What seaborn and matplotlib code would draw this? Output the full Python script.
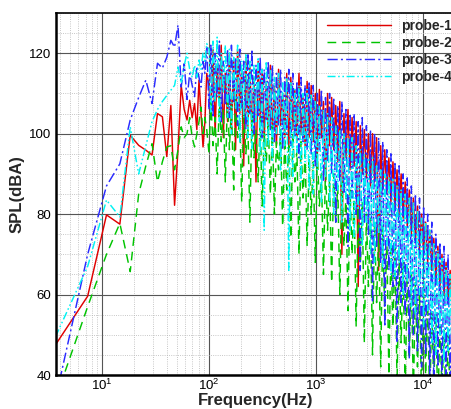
import numpy as np
import pandas as pd
import matplotlib
matplotlib.use("Agg")
import matplotlib.pyplot as plt
from matplotlib.ticker import MultipleLocator, LogLocator
import seaborn as sns

# ---------------- data ----------------
probes = ["probe-1", "probe-2", "probe-3", "probe-4"]

# low-frequency FFT bins (Hz)
freq_low = [3.66, 7.32, 10.98, 14.64, 18.30, 21.96, 25.62, 29.28, 32.94, 36.60,
            40.26, 43.92, 47.58, 51.24, 54.90, 58.56, 62.22, 65.88, 69.54, 73.20,
            76.86, 80.52, 84.18, 87.84, 91.50, 95.16]

# higher-frequency samples (Hz)
freq_high = [100, 104, 109, 114, 119, 125, 130, 136, 142, 149,
             155, 162, 170, 177, 185, 194, 202, 211, 221, 231,
             241, 252, 263, 275, 288, 301, 314, 328, 343, 358,
             375, 391, 409, 427, 447, 467, 488, 510, 533, 557,
             582, 608, 635, 664, 694, 725, 757, 792, 827, 864,
             903, 944, 986, 1031, 1077, 1126, 1176, 1229, 1285, 1342,
             1403, 1466, 1532, 1601, 1673, 1748, 1827, 1909, 1995, 2085,
             2179, 2277, 2379, 2486, 2598, 2715, 2837, 2965, 3098, 3238,
             3383, 3536, 3695, 3861, 4035, 4216, 4406, 4604, 4812, 5028,
             5254, 5491, 5738, 5996, 6266, 6548, 6843, 7151, 7472, 7809,
             8160, 8527, 8911, 9312, 9731, 10170, 10620, 11100, 11600, 12120,
             12670, 13240, 13830, 14460, 15110, 15790, 16500, 17240, 18020, 18830,
             19670, 20560]

p1_low = [47.5, 59.6, 79.8, 77.5, 99.6, 97.1, 95.9, 94.7, 105, 104.2,
          94.3, 107, 82.2, 96, 112, 106, 103.4, 108.3, 104, 107.5,
          101, 113.3, 105, 96.7, 103, 115]
p1_high = [112, 104, 121, 100, 117, 108, 122, 99, 115, 103,
           120, 101, 118, 96, 121, 105, 116, 92, 119, 102,
           117, 99, 114, 88, 118, 103, 116, 98, 113, 101,
           117, 100, 112, 97, 116, 102, 110, 99, 115, 96,
           114, 101, 111, 98, 115, 100, 109, 97, 113, 99,
           112, 98, 110, 95, 111, 99, 108, 88, 110, 97,
           109, 96, 107, 93, 108, 70, 105, 94, 106, 91,
           104, 92, 103, 62, 102, 90, 101, 89, 100, 87,
           100, 88, 99, 66, 97, 86, 96, 85, 94, 83,
           93, 82, 91, 80, 90, 79, 88, 77, 86, 75,
           84, 73, 82, 71, 80, 70, 78, 68, 76, 66,
           74, 64, 72, 62, 70, 60, 68, 58, 66, 56,
           64, 54]

p2_low = [34, 57, 70, 77.7, 65.7, 85, 92, 97.5, 88, 93,
          96.7, 97, 91, 96, 101.7, 99, 100, 104, 99, 96.7,
          100, 103, 106.6, 100, 104, 101]
p2_high = [95, 108, 97, 104, 90, 109, 98, 106, 88, 110,
           96, 107, 86, 109, 99, 104, 83, 106, 95, 102,
           78, 105, 94, 101, 88, 104, 82, 100, 93, 103,
           85, 102, 80, 98, 91, 101, 77, 99, 86, 97,
           74, 100, 88, 96, 70, 98, 84, 95, 72, 94,
           80, 93, 68, 95, 82, 90, 65, 92, 76, 89,
           63, 90, 78, 87, 60, 88, 72, 85, 56, 86,
           70, 84, 52, 82, 66, 83, 48, 80, 62, 79,
           45, 78, 58, 76, 42, 77, 55, 74, 40, 73,
           52, 72, 38, 70, 48, 68, 36, 67, 44, 65,
           35, 63, 42, 61, 34, 60, 40, 58, 33, 56,
           38, 55, 32, 53, 36, 51, 31, 50, 34, 48,
           30, 47]

p3_low = [34, 70, 87, 92.5, 103.4, 109, 113.3, 107.5, 117.5, 116.3,
          119, 123.2, 121.5, 127, 111.6, 117.4, 108.5, 115, 112, 109.2,
          116.7, 114, 111.6, 118, 115, 121.5]
p3_high = [106, 122, 104, 120, 109, 123, 103, 118, 107, 121,
           104, 122, 108, 119, 102, 121, 106, 118, 101, 120,
           105, 121, 100, 117, 104, 119, 99, 116, 103, 118,
           101, 117, 98, 115, 102, 116, 96, 114, 100, 116,
           97, 115, 99, 113, 94, 114, 98, 112, 96, 113,
           95, 112, 92, 110, 96, 111, 88, 109, 93, 110,
           90, 109, 78, 107, 88, 108, 85, 106, 72, 105,
           84, 105, 80, 103, 66, 104, 78, 102, 75, 101,
           58, 100, 72, 99, 68, 98, 52, 96, 66, 95,
           62, 93, 48, 92, 58, 90, 55, 89, 44, 87,
           50, 85, 46, 84, 42, 82, 45, 80, 40, 78,
           38, 75, 42, 73, 36, 72, 40, 70, 35, 67,
           38, 64]

p4_low = [49.5, 67, 83.5, 79.3, 101.7, 90, 97, 103, 106, 108,
          109.5, 110.8, 112, 116.6, 112.5, 117, 120, 116, 114, 117,
          114, 118.3, 116, 120, 118, 122.4]
p4_high = [121, 105, 123, 108, 124, 103, 120, 110, 122, 104,
           121, 100, 119, 106, 122, 98, 118, 104, 120, 99,
           118, 96, 117, 103, 119, 95, 116, 76, 118, 97,
           116, 93, 114, 100, 115, 91, 113, 97, 114, 66,
           113, 89, 111, 95, 112, 88, 110, 93, 111, 86,
           110, 85, 108, 91, 107, 83, 106, 89, 105, 82,
           104, 80, 102, 86, 101, 78, 100, 84, 99, 76,
           99, 74, 97, 81, 96, 72, 95, 78, 94, 70,
           94, 68, 92, 75, 91, 67, 90, 72, 89, 65,
           89, 64, 87, 68, 86, 60, 85, 63, 84, 57,
           83, 55, 81, 60, 79, 52, 78, 56, 76, 48,
           73, 45, 71, 50, 69, 43, 67, 46, 65, 40,
           62, 38]

y_ticks = [40, 60, 80, 100, 120]

# ---------------- build table ----------------
series = {
    "probe-1": p1_low + p1_high,
    "probe-2": p2_low + p2_high,
    "probe-3": p3_low + p3_high,
    "probe-4": p4_low + p4_high,
}
freq_all = freq_low + freq_high
frames = []
for name in probes:
    frames.append(pd.DataFrame({"freq": freq_all, "spl": series[name], "probe": name}))
df = pd.concat(frames, ignore_index=True)

# ---------------- style ----------------
sns.set_style("white")
plt.rcParams["font.family"] = ["Liberation Sans", "DejaVu Sans"]
plt.rcParams["mathtext.default"] = "regular"

palette = {"probe-1": "#e00000", "probe-2": "#00c400",
           "probe-3": "#2a2aff", "probe-4": "#00f2f2"}
dashes = {"probe-1": "",
          "probe-2": (6, 4),
          "probe-3": (7, 2.2, 1.4, 2.2),
          "probe-4": (5.5, 1.8, 1.1, 1.8, 1.1, 1.8)}

fig = plt.figure(figsize=(4.51, 4.09), dpi=100)
ax = fig.add_axes([56 / 451, 34 / 409, 399 / 451, 362 / 409])

sns.lineplot(data=df, x="freq", y="spl", hue="probe", style="probe",
             palette=palette, dashes=dashes, estimator=None, sort=False,
             lw=1.05, legend=False, ax=ax)

ax.set_xscale("log")
ax.set_xlim(3.7, 20000)
ax.set_ylim(40, 130)
ax.set_yticks(y_ticks)
ax.yaxis.set_minor_locator(MultipleLocator(5))
ax.xaxis.set_minor_locator(LogLocator(base=10, subs=np.arange(2, 10)))

ax.set_axisbelow(True)
ax.grid(which="major", color="#555555", lw=0.8, ls="-")
ax.grid(which="minor", color="#b5b5b5", lw=0.6, ls=":")

ax.tick_params(which="both", direction="in", colors="black", labelsize=9.5)
ax.tick_params(which="major", length=6, width=1.5)
ax.tick_params(which="minor", length=3, width=0.8)
ax.tick_params(axis="x", which="major", pad=2)

for side in ["left", "bottom"]:
    ax.spines[side].set_linewidth(1.8)
    ax.spines[side].set_color("black")
for side in ["top", "right"]:
    ax.spines[side].set_linewidth(1.2)
    ax.spines[side].set_color("black")

ax.set_xlabel("Frequency(Hz)", fontsize=12, fontweight="bold", labelpad=0)
ax.set_ylabel("SPL(dBA)", fontsize=12, fontweight="bold", labelpad=3)

handles = ax.get_lines()[:4]
ax.legend(handles=handles, labels=probes, loc="upper left",
          bbox_to_anchor=(327 / 451, 1 - 19 / 409), bbox_transform=fig.transFigure,
          frameon=False, borderpad=0, borderaxespad=0, handlelength=4.6,
          handletextpad=0.75, labelspacing=0.22,
          prop={"weight": "bold", "size": 10})

fig.savefig("out.png", dpi=100)
